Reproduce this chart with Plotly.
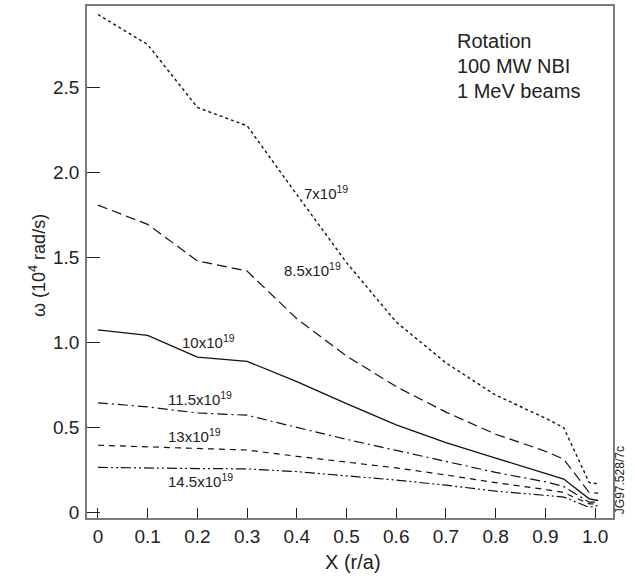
import plotly.graph_objects as go

# Normalised radius r/a
x_pts = [0.0, 0.1, 0.2, 0.3, 0.4, 0.5, 0.6, 0.7, 0.8, 0.9, 0.937, 0.988, 1.006]

# Toroidal rotation (10^4 rad/s) for each line-averaged density
w_7 = [2.93, 2.753, 2.383, 2.275, 1.87, 1.47, 1.12, 0.88, 0.69, 0.555, 0.498, 0.176, 0.168]
w_85 = [1.808, 1.695, 1.48, 1.42, 1.14, 0.92, 0.74, 0.59, 0.46, 0.36, 0.313, 0.117, 0.113]
w_10 = [1.074, 1.042, 0.914, 0.889, 0.77, 0.64, 0.515, 0.41, 0.32, 0.23, 0.196, 0.08, 0.07]
w_115 = [0.645, 0.621, 0.585, 0.572, 0.50, 0.43, 0.365, 0.30, 0.235, 0.18, 0.152, 0.06, 0.06]
w_13 = [0.395, 0.387, 0.378, 0.367, 0.33, 0.295, 0.262, 0.22, 0.175, 0.135, 0.117, 0.05, 0.05]
w_145 = [0.265, 0.26, 0.258, 0.256, 0.24, 0.215, 0.19, 0.16, 0.125, 0.10, 0.09, 0.03, 0.04]

series = [
    (w_7, "dot", 1.4),
    (w_85, "10px,5px", 1.2),
    (w_10, "solid", 1.3),
    (w_115, "10px,4px,2px,4px", 1.2),
    (w_13, "6px,5px", 1.2),
    (w_145, "10px,3px,2px,3px,2px,3px", 1.2),
]

x_ticks = [0, 0.1, 0.2, 0.3, 0.4, 0.5, 0.6, 0.7, 0.8, 0.9, 1.0]
x_ticktext = ["0", "0.1", "0.2", "0.3", "0.4", "0.5", "0.6", "0.7", "0.8", "0.9", "1.0"]
y_ticks = [0, 0.5, 1.0, 1.5, 2.0, 2.5]
y_ticktext = ["0", "0.5", "1.0", "1.5", "2.0", "2.5"]

FONT = "Liberation Sans, Arial, sans-serif"
INK = "#222222"

fig = go.Figure()
for ys, dash, width in series:
    fig.add_trace(go.Scatter(
        x=x_pts, y=ys, mode="lines",
        line=dict(color="#111111", width=width, dash=dash),
        showlegend=False, hoverinfo="skip",
    ))

axis_common = dict(
    showline=True, mirror=True, linecolor="#7a7a7a", linewidth=1.5,
    showgrid=False, zeroline=False,
    ticks="inside", tickcolor="#222222", tickwidth=1.2,
    tickfont=dict(family=FONT, size=19, color=INK),
)

fig.update_layout(
    width=635, height=583,
    margin=dict(l=87, r=22, t=4, b=65),
    paper_bgcolor="white", plot_bgcolor="white",
    xaxis=dict(range=[-0.022, 1.036], tickvals=x_ticks, ticktext=x_ticktext,
               ticklen=10, **axis_common),
    yaxis=dict(range=[-0.033, 2.98], tickvals=y_ticks, ticktext=y_ticktext,
               ticklen=13, ticklabelstandoff=2, **axis_common),
)

# Curve labels (density in m^-3)
curve_labels = [
    ("7x10<sup>19</sup>", 0.41, 1.88),
    ("8.5x10<sup>19</sup>", 0.37, 1.43),
    ("10x10<sup>19</sup>", 0.165, 1.005),
    ("11.5x10<sup>19</sup>", 0.137, 0.67),
    ("13x10<sup>19</sup>", 0.137, 0.455),
    ("14.5x10<sup>19</sup>", 0.137, 0.19),
]
for txt, lx, ly in curve_labels:
    fig.add_annotation(x=lx, y=ly, text=txt, showarrow=False, xanchor="left",
                       yanchor="middle", font=dict(family=FONT, size=15, color=INK))

# Case description block
for i, line in enumerate(["Rotation", "100 MW NBI", "1 MeV beams"]):
    fig.add_annotation(xref="paper", yref="paper", x=(455 - 87) / 526, y=1 - (39 + 25 * i - 4) / 514,
                       text=line, showarrow=False, xanchor="left", yanchor="middle",
                       font=dict(family=FONT, size=20, color=INK))

# Axis titles
fig.add_annotation(xref="paper", yref="paper", x=(353 - 87) / 526, y=1 - (562 - 4) / 514,
                   text="X (r/a)", showarrow=False, xanchor="center", yanchor="middle",
                   font=dict(family=FONT, size=20, color=INK))
fig.add_annotation(xref="paper", yref="paper", x=(38 - 87) / 526, y=1 - (265 - 4) / 514,
                   text="ω (10<sup>4</sup> rad/s)", showarrow=False, textangle=-90,
                   xanchor="center", yanchor="middle",
                   font=dict(family=FONT, size=18, color=INK))

# Figure reference tag
fig.add_annotation(xref="paper", yref="paper", x=(620 - 87) / 526, y=1 - (480 - 4) / 514,
                   text="JG97.528/7c", showarrow=False, textangle=-90,
                   xanchor="center", yanchor="middle",
                   font=dict(family=FONT, size=12, color=INK))

fig.write_html("out.html")
